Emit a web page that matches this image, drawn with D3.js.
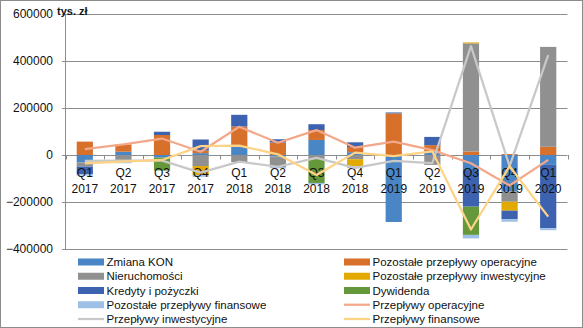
<!DOCTYPE html>
<html lang="pl">
<head>
    <meta charset="UTF-8">
    <title>Przepływy pieniężne kwartalnie</title>
    <script src="https://d3js.org/d3.v7.min.js"></script>
    <style>
        body { margin: 0; background: #fff; }
        svg { display: block; font-family: "Liberation Sans", Arial, sans-serif; }
    </style>
</head>
<body>

    <div id="chart"></div>

    <script>
        // categories (quarter + year on two lines)
        const quarters = ["Q1", "Q2", "Q3", "Q4", "Q1", "Q2", "Q3", "Q4", "Q1", "Q2", "Q3", "Q4", "Q1"];
        const years = ["2017", "2017", "2017", "2017", "2018", "2018", "2018", "2018", "2019", "2019", "2019", "2019", "2020"];

        // stacked bar series, tys. zł
        const zmianaKON = [-32000, 14000, -11000, 8000, 36000, -6000, 64000, 12000, -285000, 15000, -64000, -156000, -42000];
        const pozostaleOperacyjne = [57000, 31000, 85000, 11000, 85000, 53000, 42000, 22000, 177000, 27000, 15000, 4000, 35000];
        const nieruchomosci = [-17000, -22000, 0, -47000, -30000, -45000, -17000, -18000, 0, -42000, 460000, -43000, 425000];
        const pozostaleInwestycyjne = [0, 0, 0, -38000, 0, 0, 0, -30000, 0, 0, 4000, -38000, 0];
        const kredyty = [-33000, 0, 14000, 47000, 50000, 14000, 25000, 20000, 4000, 35000, -156000, -36000, -270000];
        const dywidenda = [0, 0, -55000, 0, 0, 0, -102000, 0, 0, 0, -120000, 0, 0];
        const pozostaleFinansowe = [-6000, -13000, 0, -8000, 0, -5000, -6000, -8000, 0, 0, -15000, -11000, -8000];

        // line series
        const przeplywyOperacyjne = [25000, 45000, 70000, 14000, 120000, 52000, 106000, 31000, 57000, 21000, -35000, -130000, -21000];
        const przeplywyInwestycyjne = [-25000, -24000, -24000, -75000, -28000, -50000, -12000, -55000, -25000, -35000, 463000, -47000, 425000];
        const przeplywyFinansowe = [-36000, -28000, -21000, 38000, 40000, 3000, -85000, 10000, -5000, 15000, -317000, -48000, -262000];

        const yTicks = [-400000, -200000, 0, 200000, 400000, 600000];

        const barSeries = [
            {key: "zmianaKON", name: "Zmiana KON", values: zmianaKON, color: "#4a86c5"},
            {key: "pozOper", name: "Pozostałe przepływy operacyjne", values: pozostaleOperacyjne, color: "#d7702b"},
            {key: "nieruch", name: "Nieruchomości", values: nieruchomosci, color: "#909090"},
            {key: "pozInw", name: "Pozostałe przepływy inwestycyjne", values: pozostaleInwestycyjne, color: "#e2aa00"},
            {key: "kredyty", name: "Kredyty i pożyczki", values: kredyty, color: "#3d63b0"},
            {key: "dywidenda", name: "Dywidenda", values: dywidenda, color: "#64983b"},
            {key: "pozFin", name: "Pozostałe przepływy finansowe", values: pozostaleFinansowe, color: "#9ec0e6"}
        ];
        const lineSeries = [
            {name: "Przepływy operacyjne", values: przeplywyOperacyjne, color: "#f3a88a"},
            {name: "Przepływy inwestycyjne", values: przeplywyInwestycyjne, color: "#c8c8c8"},
            {name: "Przepływy finansowe", values: przeplywyFinansowe, color: "#ffd386"}
        ];

        const width = 583, height = 328;
        const plotLeft = 65.5, plotRight = 567.5, plotTop = 14, plotBottom = 249;
        const gridColor = "#8c8c8c";

        const svg = d3.select("#chart")
                      .append("svg")
                      .attr("width", width)
                      .attr("height", height);

        svg.append("rect")
           .attr("x", 0.5).attr("y", 0.5)
           .attr("width", width - 1).attr("height", height - 1)
           .attr("fill", "#fff")
           .attr("stroke", gridColor);

        const categories = quarters.map((q, i) => q + " " + years[i]);

        const x = d3.scaleBand()
                    .domain(categories)
                    .range([plotLeft, plotRight])
                    .paddingInner(0.58)
                    .paddingOuter(0.29);

        const y = d3.scaleLinear()
                    .domain([-400000, 600000])
                    .range([plotBottom, plotTop]);

        // gridlines + y labels
        const yAxis = svg.append("g")
           .attr("transform", `translate(${plotLeft - 3.5},0)`)
           .call(d3.axisLeft(y)
                   .tickValues(yTicks)
                   .tickFormat(d3.format("d"))
                   .tickSize(-(plotRight - plotLeft + 3.5))
                   .tickPadding(9));
        yAxis.select(".domain").remove();
        yAxis.selectAll("line").attr("stroke", gridColor);
        yAxis.selectAll("text")
             .attr("font-size", "12px")
             .attr("font-family", "Liberation Sans, Arial, sans-serif")
             .attr("fill", "#111");

        svg.append("line")
           .attr("x1", plotLeft).attr("x2", plotLeft)
           .attr("y1", plotTop).attr("y2", plotBottom)
           .attr("stroke", gridColor);

        // category ticks on the zero line
        const step = x.step();
        for (let i = 0; i <= categories.length; i++) {
            const tx = Math.round(plotLeft + i * step) + 0.5;
            svg.append("line")
               .attr("x1", tx).attr("x2", tx)
               .attr("y1", y(0)).attr("y2", y(0) + 4.5)
               .attr("stroke", gridColor);
        }

        // stacked bars (positives up, negatives down, like Excel)
        const table = categories.map((c, i) => {
            const row = {cat: c};
            barSeries.forEach(s => row[s.key] = s.values[i]);
            return row;
        });
        const stacked = d3.stack()
                          .keys(barSeries.map(s => s.key))
                          .offset(d3.stackOffsetDiverging)(table);

        stacked.forEach((layer, si) => {
            svg.append("g")
               .attr("fill", barSeries[si].color)
               .selectAll("rect")
               .data(layer.filter(d => d[1] !== d[0]))
               .join("rect")
               .attr("x", d => x(d.data.cat))
               .attr("width", x.bandwidth())
               .attr("y", d => y(Math.max(d[0], d[1])))
               .attr("height", d => Math.abs(y(d[0]) - y(d[1])));
        });

        // x labels
        const xl = svg.append("g")
                      .attr("font-size", "12px")
                      .attr("fill", "#111")
                      .attr("text-anchor", "middle");
        categories.forEach((c, i) => {
            const cx = x(c) + x.bandwidth() / 2;
            xl.append("text").attr("x", cx).attr("y", 176.5).text(quarters[i]);
            xl.append("text").attr("x", cx).attr("y", 192.5).text(years[i]);
        });

        // lines
        const line = d3.line()
                       .x((d, i) => x(categories[i]) + x.bandwidth() / 2)
                       .y(d => y(d));
        lineSeries.forEach(s => {
            svg.append("path")
               .attr("d", line(s.values))
               .attr("fill", "none")
               .attr("stroke", s.color)
               .attr("stroke-width", 2.25)
               .attr("stroke-linejoin", "round");
        });

        // unit label
        svg.append("text")
           .attr("x", 57).attr("y", 15)
           .attr("font-size", "11px")
           .attr("font-weight", "bold")
           .attr("fill", "#111")
           .text("tys. zł");

        // legend, two columns filled row by row
        const legendItems = barSeries.map(s => ({name: s.name, color: s.color, type: "bar"}))
            .concat(lineSeries.map(s => ({name: s.name, color: s.color, type: "line"})));
        const colX = [78, 344];
        legendItems.forEach((d, i) => {
            const lx = colX[i % 2];
            const ly = 262 + Math.floor(i / 2) * 14.25;
            if (d.type === "bar") {
                svg.append("rect")
                   .attr("x", lx).attr("y", ly - 3.5)
                   .attr("width", 26).attr("height", 7)
                   .attr("fill", d.color);
            } else {
                svg.append("line")
                   .attr("x1", lx).attr("x2", lx + 26)
                   .attr("y1", ly).attr("y2", ly)
                   .attr("stroke", d.color)
                   .attr("stroke-width", 2.25);
            }
            svg.append("text")
               .attr("x", lx + 28.5).attr("y", ly + 4)
               .attr("font-size", "11.5px")
               .attr("fill", "#111")
               .text(d.name);
        });
    </script>

</body>
</html>
